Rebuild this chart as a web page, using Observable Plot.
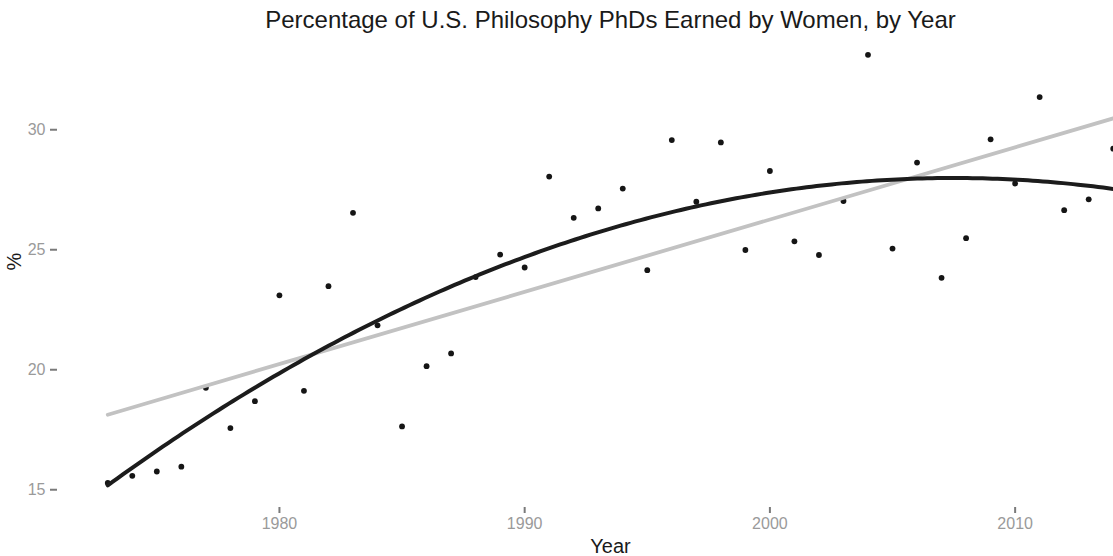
<!DOCTYPE html>
<html>
<head>
<meta charset="utf-8">
<script src="https://cdn.jsdelivr.net/npm/d3@7"></script>
<script src="https://cdn.jsdelivr.net/npm/@observablehq/plot@0.6"></script>
<style>
  html, body { margin: 0; padding: 0; background: #ffffff; overflow: hidden; }
  #chart svg { display: block; }
</style>
</head>
<body>
<div id="chart"></div>
<script>
// ---- data ----
const years = [1973, 1974, 1975, 1976, 1977, 1978, 1979, 1980, 1981, 1982,
               1983, 1984, 1985, 1986, 1987, 1988, 1989, 1990, 1991, 1992,
               1993, 1994, 1995, 1996, 1997, 1998, 1999, 2000, 2001, 2002,
               2003, 2004, 2005, 2006, 2007, 2008, 2009, 2010, 2011, 2012,
               2013, 2014];
const percentWomen = [15.28, 15.58, 15.76, 15.96, 19.25, 17.57, 18.69, 23.10, 19.12, 23.48,
                      26.54, 21.85, 17.64, 20.15, 20.68, 23.86, 24.80, 24.26, 28.05, 26.33,
                      26.72, 27.55, 24.15, 29.57, 27.00, 29.47, 24.99, 28.28, 25.35, 24.78,
                      27.03, 33.12, 25.05, 28.63, 23.83, 25.48, 29.60, 27.76, 31.36, 26.65,
                      27.10, 29.21];
const xTicks = [1980, 1990, 2000, 2010];
const yTicks = [15, 20, 25, 30];
const titleText = "Percentage of U.S. Philosophy PhDs Earned by Women, by Year";
const xLabel = "Year";
const yLabel = "%";

const data = years.map((year, i) => ({year, pct: percentWomen[i]}));

// ---- quadratic least-squares fit of the data (black curve) ----
function quadFit(xs, ys) {
  const xm = d3.mean(xs);
  const S = [[0,0,0],[0,0,0],[0,0,0]], b = [0,0,0];
  xs.forEach((x, i) => {
    const t = x - xm, p = [1, t, t * t];
    for (let j = 0; j < 3; j++) {
      b[j] += p[j] * ys[i];
      for (let k = 0; k < 3; k++) S[j][k] += p[j] * p[k];
    }
  });
  const A = S.map((row, j) => [...row, b[j]]);
  for (let c = 0; c < 3; c++) {
    for (let r = c + 1; r < 3; r++) {
      const f = A[r][c] / A[c][c];
      for (let k = c; k < 4; k++) A[r][k] -= f * A[c][k];
    }
  }
  const coef = [0,0,0];
  for (let r = 2; r >= 0; r--) {
    let s = A[r][3];
    for (let k = r + 1; k < 3; k++) s -= A[r][k] * coef[k];
    coef[r] = s / A[r][r];
  }
  return x => { const t = x - xm; return coef[0] + coef[1] * t + coef[2] * t * t; };
}
const fq = quadFit(years, percentWomen);
const [y0, y1] = d3.extent(years);
const curve = d3.range(0, 201).map(i => {
  const x = y0 + (y1 - y0) * i / 200;
  return {year: x, pct: fq(x)};
});

const FONT = "'Liberation Sans', Arial, Helvetica, sans-serif";

const chart = Plot.plot({
  width: 1113,
  height: 556,
  marginLeft: 57,
  marginRight: 0,
  marginTop: 33,
  marginBottom: 49,
  style: {fontFamily: FONT, background: "#ffffff", overflow: "hidden"},
  x: {domain: [1970.95, 2016.05], range: [57, 1163]},
  y: {domain: [14.26, 34.01], range: [507, 33]},
  marks: [
    Plot.axisY({ticks: yTicks, tickSize: 7, tickPadding: 5, stroke: "#7a7a7a", strokeWidth: 2,
                fill: "#9a9a9a", fontSize: 16, label: null}),
    Plot.axisX({ticks: xTicks, tickFormat: "d", tickSize: 6, tickPadding: 4, stroke: "#7a7a7a",
                strokeWidth: 2, fill: "#9a9a9a", fontSize: 16, label: null}),
    Plot.dot(data, {x: "year", y: "pct", r: 2.9, fill: "#151515", stroke: "none"}),
    Plot.linearRegressionY(data, {x: "year", y: "pct", stroke: "#c2c2c2", strokeWidth: 3.8, ci: 0}),
    Plot.line(curve, {x: "year", y: "pct", stroke: "#1c1c1c", strokeWidth: 4}),
    Plot.text([titleText], {frameAnchor: "top", dx: 25, dy: -6, lineAnchor: "bottom",
                            fontSize: 24, fill: "#1a1a1a"}),
    Plot.text([xLabel], {frameAnchor: "bottom", dx: 25, dy: 45, lineAnchor: "bottom",
                         fontSize: 20, fill: "#1a1a1a"}),
    Plot.text([yLabel], {frameAnchor: "left", dx: -43, rotate: -90, fontSize: 20, fill: "#1a1a1a"})
  ]
});
document.getElementById("chart").appendChild(chart);
</script>
</body>
</html>
